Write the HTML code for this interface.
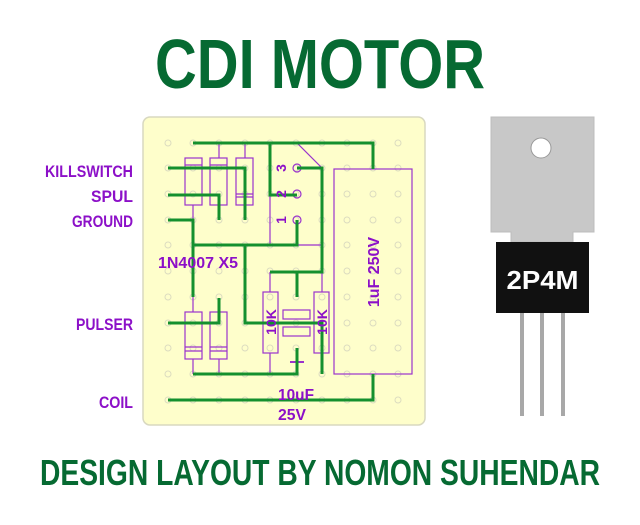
<!DOCTYPE html>
<html><head><meta charset="utf-8"><style>
html,body{margin:0;padding:0;background:#fff;}
svg{display:block;}
text{font-family:"Liberation Sans",sans-serif;font-weight:bold;}
</style></head><body>
<svg width="640" height="525" viewBox="0 0 640 525" xmlns="http://www.w3.org/2000/svg">
<defs>
<g id="row">
<circle cx="168" cy="0" r="3"/><circle cx="193" cy="0" r="3"/><circle cx="219" cy="0" r="3"/><circle cx="245" cy="0" r="3"/><circle cx="270" cy="0" r="3"/><circle cx="296" cy="0" r="3"/><circle cx="322" cy="0" r="3"/><circle cx="347" cy="0" r="3"/><circle cx="373" cy="0" r="3"/><circle cx="398" cy="0" r="3"/>
</g>
</defs>
<rect width="640" height="525" fill="#fff"/>
<text x="155" y="88" textLength="330" lengthAdjust="spacingAndGlyphs" font-size="70" fill="#066a32">CDI MOTOR</text>
<text x="40" y="485" textLength="560" lengthAdjust="spacingAndGlyphs" font-size="36" fill="#066a32">DESIGN LAYOUT BY NOMON SUHENDAR</text>

<!-- board -->
<rect x="143" y="117" width="282" height="308" rx="7" fill="#fefecb" stroke="#d8d8c0" stroke-width="1.5"/>
<g fill="none" stroke="#dcdcc0" stroke-width="1">
<use href="#row" y="143"/><use href="#row" y="168"/><use href="#row" y="194"/><use href="#row" y="220"/><use href="#row" y="245"/><use href="#row" y="271"/><use href="#row" y="297"/><use href="#row" y="323"/><use href="#row" y="348"/><use href="#row" y="374"/><use href="#row" y="400"/>
</g>

<!-- purple components -->
<g fill="none" stroke="#9a33cc" stroke-width="1.2">
<rect x="185" y="158" width="17" height="47"/><line x1="185" y1="165" x2="202" y2="165"/><line x1="185" y1="168" x2="202" y2="168"/>
<rect x="210" y="158" width="17" height="47"/><line x1="210" y1="165" x2="227" y2="165"/><line x1="210" y1="168" x2="227" y2="168"/>
<rect x="236" y="158" width="17" height="47"/><line x1="236" y1="194" x2="253" y2="194"/><line x1="236" y1="197" x2="253" y2="197"/>
<line x1="219" y1="143" x2="219" y2="158"/><line x1="245" y1="143" x2="245" y2="158"/><line x1="193" y1="205" x2="193" y2="220"/>
<rect x="185" y="312" width="17" height="47"/><line x1="185" y1="347" x2="202" y2="347"/><line x1="185" y1="351" x2="202" y2="351"/>
<rect x="210" y="312" width="17" height="47"/><line x1="210" y1="347" x2="227" y2="347"/><line x1="210" y1="351" x2="227" y2="351"/>
<line x1="193" y1="297" x2="193" y2="312"/><line x1="193" y1="359" x2="193" y2="374"/><line x1="219" y1="359" x2="219" y2="374"/>
<path d="M270 143 H297 L322 168 V245 H270 Z"/>
<circle cx="297" cy="168" r="4"/><circle cx="297" cy="194" r="4"/><circle cx="297" cy="220" r="4"/>
<rect x="263" y="292" width="15" height="61"/><line x1="270" y1="272" x2="270" y2="292"/><line x1="270" y1="353" x2="270" y2="374"/>
<rect x="314" y="292" width="15" height="61"/><line x1="322" y1="272" x2="322" y2="292"/>
<rect x="283" y="310" width="27" height="9"/><rect x="283" y="327" width="27" height="9"/>
<line x1="297" y1="355" x2="297" y2="369" stroke-width="2"/><line x1="290" y1="362" x2="304" y2="362" stroke-width="2"/>
<rect x="334" y="169" width="78" height="205"/>
</g>

<!-- green traces -->
<g fill="none" stroke="#14902e" stroke-width="3">
<path d="M193 143 H373 V169"/>
<path d="M373 374 V400 H168"/>
<path d="M168 168 H245 V220"/>
<path d="M168 195 H219 V220"/>
<path d="M168 220 H193 V297"/>
<path d="M193 245 H297 V220"/>
<path d="M245 245 V323 H322 V374"/>
<path d="M270 143 V195 H297"/>
<path d="M297 168 H322 V272 H270"/>
<path d="M297 272 V297"/>
<path d="M193 374 H297 V348"/>
<path d="M168 323 H219 V298"/>
</g>

<!-- board labels -->
<g fill="#8c10c8">
<text x="158" y="268" textLength="80" lengthAdjust="spacingAndGlyphs" font-size="16">1N4007 X5</text>
<text transform="translate(379,272) rotate(-90)" text-anchor="middle" font-size="16">1uF 250V</text>
<text transform="translate(276,322) rotate(-90)" text-anchor="middle" font-size="14">10K</text>
<text transform="translate(327,322) rotate(-90)" text-anchor="middle" font-size="14">10K</text>
<text transform="translate(286,168) rotate(-90)" text-anchor="middle" font-size="14">3</text>
<text transform="translate(286,194) rotate(-90)" text-anchor="middle" font-size="14">2</text>
<text transform="translate(286,220) rotate(-90)" text-anchor="middle" font-size="14">1</text>
<text x="278" y="400" textLength="36" lengthAdjust="spacingAndGlyphs" font-size="16">10uF</text>
<text x="278" y="420" textLength="28" lengthAdjust="spacingAndGlyphs" font-size="16">25V</text>
</g>

<!-- left labels -->
<g fill="#8c10c8" font-size="17" text-anchor="end">
<text x="133" y="177" textLength="88" lengthAdjust="spacingAndGlyphs">KILLSWITCH</text>
<text x="133" y="202" textLength="42" lengthAdjust="spacingAndGlyphs">SPUL</text>
<text x="133" y="227" textLength="61" lengthAdjust="spacingAndGlyphs">GROUND</text>
<text x="133" y="330" textLength="57" lengthAdjust="spacingAndGlyphs">PULSER</text>
<text x="133" y="408" textLength="34" lengthAdjust="spacingAndGlyphs">COIL</text>
</g>

<!-- transistor -->
<path d="M491 117 H594 V232 H573 V242 H511 V232 H491 Z" fill="#c8c8c8" stroke="#bdbdbd"/>
<circle cx="541" cy="148" r="10" fill="#fff" stroke="#999"/>
<rect x="496" y="242" width="93" height="71" fill="#111"/>
<text x="542.5" y="289" text-anchor="middle" font-size="26" fill="#fff" textLength="72" lengthAdjust="spacingAndGlyphs">2P4M</text>
<g fill="#a8a8a8">
<rect x="520" y="313" width="4" height="103"/><rect x="540" y="313" width="4" height="103"/><rect x="561" y="313" width="4" height="103"/>
</g>
</svg>
</body></html>
